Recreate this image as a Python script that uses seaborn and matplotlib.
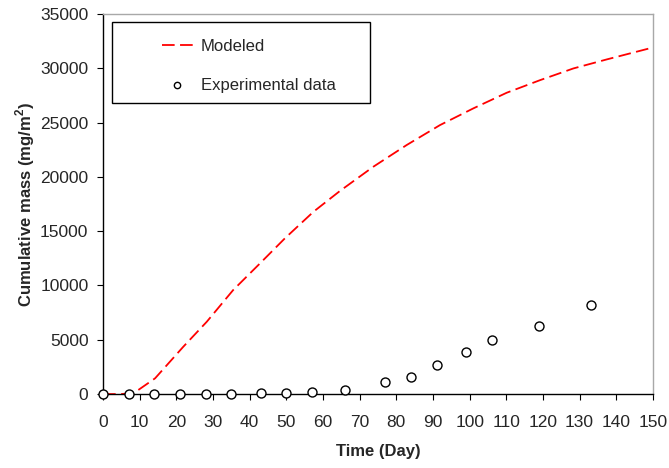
"""
Cumulative mass: modeled curve vs. experimental data
"""

import matplotlib
matplotlib.use('Agg')
import matplotlib.pyplot as plt
from matplotlib.patches import Rectangle
import seaborn as sns
import pandas as pd

# Modellkurve
model_days = [0, 5, 8, 9.6, 14.2, 21.9, 28.3, 35.5, 42.8, 49.6, 57.4, 64.6, 73.7,
              82.8, 91.9, 101, 110.1, 119.2, 128.3, 137.4, 150]
model_mass = [0, 0, 100, 370, 1450, 4360, 6660, 9580, 12030, 14340, 16790, 18700, 20930,
              22930, 24770, 26310, 27750, 28910, 29990, 30820, 31920]

# Messwerte
exp_days = [0, 7, 14, 21, 28, 35, 43, 50, 57, 66, 77, 84, 91, 99, 106, 119, 133]
exp_mass = [0, 0, 0, 0, 0, 0, 90, 90, 180, 340, 1130, 1590, 2670, 3870, 4970, 6230, 8170]

df_model = pd.DataFrame({'day': model_days, 'mass': model_mass})
df_exp = pd.DataFrame({'day': exp_days, 'mass': exp_mass})

sns.set_style('ticks')
plt.rcParams['font.family'] = ['Liberation Sans', 'DejaVu Sans']
plt.rcParams['mathtext.fontset'] = 'custom'
plt.rcParams['mathtext.rm'] = 'Liberation Sans'
plt.rcParams['mathtext.bf'] = 'Liberation Sans:bold'

fig = plt.figure(figsize=(6.69, 4.68), dpi=100)
ax = fig.add_axes([0.154, 0.158, 0.822, 0.812])

sns.lineplot(data=df_model, x='day', y='mass', ax=ax, color='red', linewidth=1.3,
             label='Modeled')
ax.lines[0].set_dashes([7, 3])
sns.scatterplot(data=df_exp, x='day', y='mass', ax=ax, marker='o', s=42,
                facecolor='white', edgecolor='black', linewidth=1.0,
                label='Experimental data', zorder=3, clip_on=False)

ax.set_xlim(0, 150)
ax.set_ylim(0, 35000)
ax.set_xticks(range(0, 151, 10))
ax.set_yticks(range(0, 35001, 5000))
ax.tick_params(labelsize=12.5, length=4, width=0.8, color='black')
ax.tick_params(axis='x', pad=11)
ax.tick_params(axis='y', pad=6.5)

for side in ['left', 'bottom']:
    ax.spines[side].set_color('black')
    ax.spines[side].set_linewidth(1.0)
for side in ['top', 'right']:
    ax.spines[side].set_visible(True)
    ax.spines[side].set_color('#a8a8a8')
    ax.spines[side].set_linewidth(1.0)

ax.set_xlabel('Time (Day)', fontsize=12, fontweight='bold', labelpad=10.5)
ax.set_ylabel(r'Cumulative mass (mg/m$^\mathbf{2}$)', fontsize=12, fontweight='bold',
              labelpad=2.5)

# Legendenrahmen separat, Legende selbst ohne Rahmen
ax.add_patch(Rectangle((0.0164, 0.766), 0.469, 0.213, transform=ax.transAxes,
                       facecolor='white', edgecolor='black', linewidth=1.0, zorder=4))
leg = ax.legend(loc='upper left', bbox_to_anchor=(0.107, 0.934), fontsize=12,
                frameon=False, handlelength=1.85, borderpad=0, labelspacing=1.42,
                borderaxespad=0, markerscale=0.7, handletextpad=0.5)
leg.set_zorder(5)

fig.savefig('out.png', dpi=100)
plt.close(fig)
